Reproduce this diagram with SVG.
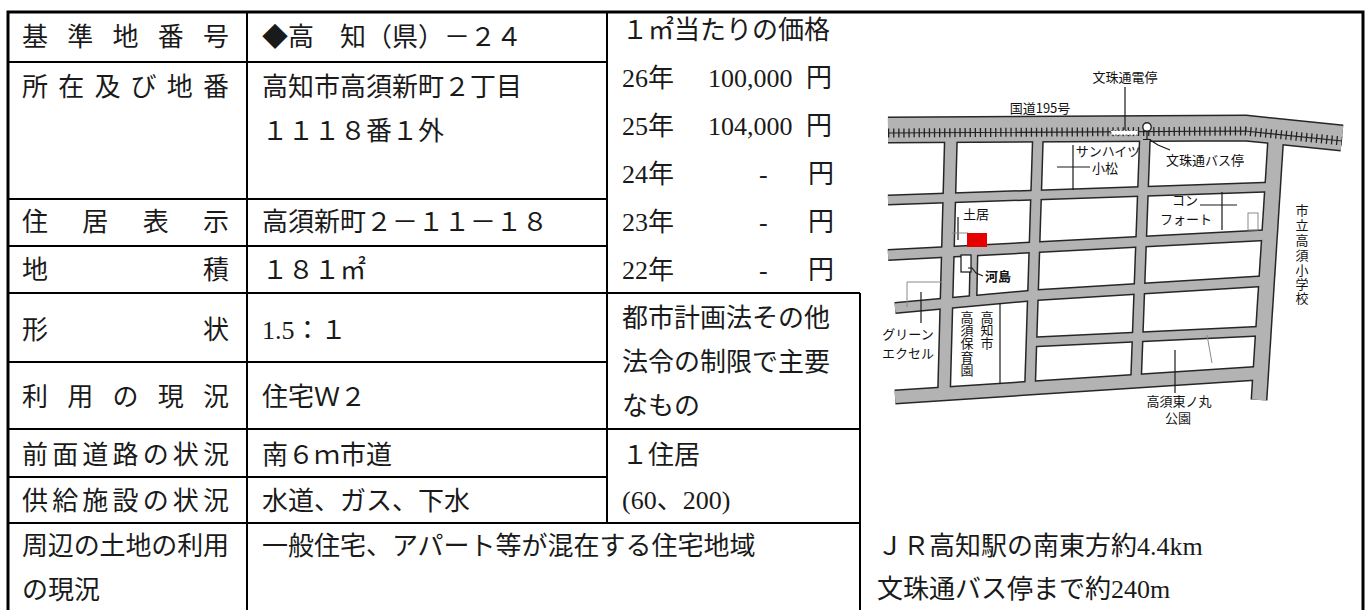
<svg xmlns="http://www.w3.org/2000/svg" width="1368" height="610" viewBox="0 0 1368 610">
<defs>
<style>
.t{font-family:"Liberation Serif","Noto Sans CJK JP",serif;font-size:26px;fill:#1a1a1a}
.m{font-family:"Noto Sans CJK JP",sans-serif;font-size:13px;fill:#111;text-anchor:middle}
.gl{stroke:#000;stroke-width:2;fill:none}
.outer{stroke:#000;stroke-width:3;fill:none}
.case{fill:none;stroke:#262626;stroke-linejoin:round;stroke-linecap:butt}
.road{fill:none;stroke:#b3b3b3;stroke-linejoin:round;stroke-linecap:butt}
.thin{fill:none;stroke:#1a1a1a;stroke-width:1.2}
.faint{fill:none;stroke:#8a8a8a;stroke-width:1}
</style>
</defs>
<rect width="1368" height="610" fill="#fff"/>

<g id="table-grid">
<path class="outer" d="M8,612 V12 H1363 V612"/>
<path class="gl" d="M247,12 V612 M607,12 V522 M860,293 V612 M8,62 H607 M8,199 H607 M8,246 H607 M8,293 H860 M8,362 H607 M8,429 H860 M8,477 H607 M8,523 H860"/>
</g>

<g id="labels">
<text class="t" x="22 67.25 112.5 157.75 203" y="46">基準地番号</text>
<text class="t" x="22 58.2 94.4 130.6 166.8 203" y="96">所在及び地番</text>
<text class="t" x="22 82.33 142.67 203" y="231">住居表示</text>
<text class="t" x="22 203" y="279">地積</text>
<text class="t" x="22 203" y="339">形状</text>
<text class="t" x="22 67.25 112.5 157.75 203" y="406">利用の現況</text>
<text class="t" x="22 52.17 82.33 112.5 142.67 172.83 203" y="464">前面道路の状況</text>
<text class="t" x="22 52.17 82.33 112.5 142.67 172.83 203" y="510">供給施設の状況</text>
<text class="t" x="22 47.86 73.71 99.57 125.43 151.29 177.14 203" y="555">周辺の土地の利用</text>
<text class="t" x="22" y="599">の現況</text>
</g>

<g id="values">
<text class="t" x="262" y="46">◆高　知（県）－２４</text>
<text class="t" x="262" y="96">高知市高須新町２丁目</text>
<text class="t" x="262" y="140">１１１８番１外</text>
<text class="t" x="262" y="231">高須新町２－１１－１８</text>
<text class="t" x="262" y="279">１８１㎡</text>
<text class="t" x="262" y="339">1.5：１</text>
<text class="t" x="262" y="406">住宅Ｗ２</text>
<text class="t" x="262" y="464">南６ｍ市道</text>
<text class="t" x="262" y="510">水道、ガス、下水</text>
<text class="t" x="262" y="555">一般住宅、アパート等が混在する住宅地域</text>
</g>

<g id="prices">
<text class="t" x="622" y="39">１㎡当たりの価格</text>
<text class="t" y="87"><tspan x="622">26</tspan><tspan x="648">年</tspan><tspan x="708">100,000</tspan><tspan x="806">円</tspan></text>
<text class="t" y="135"><tspan x="622">25</tspan><tspan x="648">年</tspan><tspan x="708">104,000</tspan><tspan x="806">円</tspan></text>
<text class="t" y="183"><tspan x="622">24</tspan><tspan x="648">年</tspan><tspan x="759">-</tspan><tspan x="808">円</tspan></text>
<text class="t" y="231"><tspan x="622">23</tspan><tspan x="648">年</tspan><tspan x="759">-</tspan><tspan x="808">円</tspan></text>
<text class="t" y="279"><tspan x="622">22</tspan><tspan x="648">年</tspan><tspan x="759">-</tspan><tspan x="808">円</tspan></text>
</g>

<g id="zoning">
<text class="t" x="622" y="327">都市計画法その他</text>
<text class="t" x="622" y="371">法令の制限で主要</text>
<text class="t" x="622" y="415">なもの</text>
<text class="t" x="622" y="464">１住居</text>
<text class="t" x="622" y="509">(60、200)</text>
</g>

<g id="access">
<text class="t" x="877" y="555">ＪＲ高知駅の南東方約4.4km</text>
<text class="t" x="877" y="598">文珠通バス停まで約240m</text>
</g>

<g id="map">
<g id="road-casing" class="case">
<polyline points="888,130 1245,128 1342,138" stroke-width="27"/>
<polyline points="888,200 1271,187" stroke-width="11"/>
<polyline points="888,255 1269,235" stroke-width="12"/>
<polyline points="895,308 1038,295 1266,281" stroke-width="12"/>
<polyline points="1032,342 1264,331" stroke-width="11"/>
<polyline points="895,397 1262,373" stroke-width="15"/>
<polyline points="974,250 973,301" stroke-width="9"/>
<polyline points="951,135 944,394" stroke-width="14"/>
<polyline points="1038,135 1030,388" stroke-width="12"/>
<polyline points="1145,135 1136,381" stroke-width="12"/>
<polyline points="1276,135 1259,400" stroke-width="17"/>
</g>
<g id="road-fill" class="road">
<polyline points="888,130 1245,128 1342,138" stroke-width="24"/>
<polyline points="888,200 1271,187" stroke-width="8"/>
<polyline points="888,255 1269,235" stroke-width="9"/>
<polyline points="895,308 1038,295 1266,281" stroke-width="9"/>
<polyline points="1032,342 1264,331" stroke-width="8"/>
<polyline points="895,397 1262,373" stroke-width="12"/>
<polyline points="974,250 973,301" stroke-width="6"/>
<polyline points="951,135 944,394" stroke-width="11"/>
<polyline points="1038,135 1030,388" stroke-width="9"/>
<polyline points="1145,135 1136,381" stroke-width="9"/>
<polyline points="1276,135 1259,400" stroke-width="14"/>
</g>
<g id="tram">
<polyline points="888,133 1245,131 1342,141" fill="none" stroke="#222" stroke-width="1.2"/>
<polyline points="888,133 1245,131 1342,141" fill="none" stroke="#222" stroke-width="9" stroke-dasharray="1.3 3.8"/>
<rect x="1111" y="130.5" width="27" height="4.5" fill="#fff" stroke="#444" stroke-width="0.8" stroke-dasharray="2 1.5"/>
<circle cx="1147" cy="127" r="4.2" fill="#fff" stroke="#222" stroke-width="1.4"/>
<path class="thin" d="M1147,131.2 V139.5 M1143,139.5 H1151"/>
</g>
<g id="leaders">
<path class="thin" d="M1125,87 V130"/>
<polyline class="thin" points="1150,140 1158,145 1170,150"/>
<path class="thin" d="M1073,145 V190 M1057,167 H1090"/>
<path class="thin" d="M1200,205 H1237 M1222,192 V230"/>
<rect class="faint" x="1248" y="213" width="10" height="17"/>
<path class="thin" d="M958,217 V240"/>
<path class="faint" d="M952,233 H968"/>
<rect x="961" y="255" width="10" height="17" fill="#fff" stroke="#111" stroke-width="1.2"/>
<polyline class="thin" points="968,268 972,268 976,273 983,276"/>
<path class="faint" d="M907,307 V282 H942"/>
<path class="thin" d="M921,292 V323"/>
<path class="thin" d="M1000,303 V384"/>
<path class="thin" d="M1175,350 V393"/>
<path class="faint" d="M1207,335 L1212,363"/>
</g>
<rect id="site" x="967" y="233" width="20" height="14" fill="#e60000"/>
<g id="map-labels">
<text class="m" x="1125" y="82" font-size="14">文珠通電停</text>
<text class="m" x="1040" y="113">国道195号</text>
<text class="m" x="1108" y="156" font-size="10">サンハイツ</text>
<text class="m" x="1105" y="173" font-size="12">小松</text>
<text class="m" x="1205" y="165">文珠通バス停</text>
<text class="m" x="1185" y="205" font-size="11">コン</text>
<text class="m" x="1186" y="224" font-size="10.5">フォート</text>
<text class="m" x="976" y="219">土居</text>
<text class="m" x="998" y="281" font-size="14" font-weight="bold">河島</text>
<text class="m" x="908" y="339" font-size="11">グリーン</text>
<text class="m" x="908" y="358" font-size="11">エクセル</text>
<text class="m" x="987 987 987" y="321.5 334.5 348" font-size="12">高知市</text>
<text class="m" x="967 967 967 967 967" y="321.5 334.5 348 361.5 375" font-size="12">高須保育園</text>
<text class="m" x="1302 1302 1302 1302 1302 1302 1302" y="215 230 245 260 275 289 303">市立高須小学校</text>
<text class="m" x="1179" y="406" font-size="11.5">高須東ノ丸</text>
<text class="m" x="1178" y="423" font-size="11.5">公園</text>
</g>
</g>
</svg>
